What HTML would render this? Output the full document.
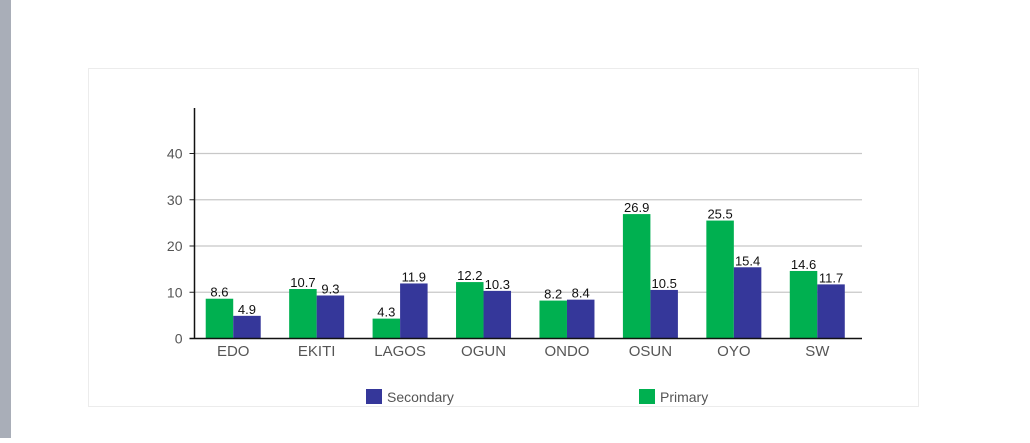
<!DOCTYPE html>
<html><head><meta charset="utf-8"><style>
body{margin:0;background:#fff;width:1030px;height:438px;overflow:hidden;font-family:"Liberation Sans",sans-serif}
</style></head><body>
<svg width="1030" height="438" xmlns="http://www.w3.org/2000/svg">
<rect x="0" y="0" width="11" height="438" fill="#a9aeb8"/>
<rect x="88.5" y="68.5" width="830" height="338" fill="#fff" stroke="#ececec"/>
<g id="grid"></g><g id="bars"></g><g id="axes"></g>
<g>
<rect x="366" y="389" width="16" height="15" fill="#35379a"/>
<text x="387" y="402" font-size="14" fill="#555">Secondary</text>
<rect x="639" y="389" width="16" height="15" fill="#00b050"/>
<text x="660" y="402" font-size="14" fill="#555">Primary</text>
</g>
</svg>
<script>
const categories=["EDO","EKITI","LAGOS","OGUN","ONDO","OSUN","OYO","SW"];
const primary=[8.6,10.7,4.3,12.2,8.2,26.9,25.5,14.6];
const secondary=[4.9,9.3,11.9,10.3,8.4,10.5,15.4,11.7];
const ticks=[0,10,20,30,40];
const NS="http://www.w3.org/2000/svg";
const x0=194.5,x1=862,y0=338.5,pxPer=(338.5-153.5)/40,groupW=(x1-x0)/categories.length,barW=27.5;
const y=v=>y0-v*pxPer;
function mk(t,a,p){const e=document.createElementNS(NS,t);for(const k in a)e.setAttribute(k,a[k]);p.appendChild(e);return e;}
const grid=document.getElementById('grid'),bars=document.getElementById('bars'),axes=document.getElementById('axes');
ticks.forEach(t=>{
 if(t>0){const l=mk('line',{x1:x0,x2:x1,y1:y(t),y2:y(t),stroke:'#c8c8c8','stroke-width':1.2},grid);
 
 }
 const tk=mk('line',{x1:x0-5,x2:x0,y1:y(t),y2:y(t),stroke:'#222'},axes);
 
 
 const tx=mk('text',{x:x0-12,y:y(t)+5,'font-size':14,fill:'#555','text-anchor':'end'},axes);tx.textContent=t;
 
 
});
categories.forEach((c,i)=>{
 const cx=x0+groupW*(i+0.5)-3;
 [[primary[i],'#00b050',cx-barW,'primary'],[secondary[i],'#35379a',cx,'secondary']].forEach(([v,col,bx,s])=>{
  const r=mk('rect',{x:bx,y:y(v),width:barW,height:v*pxPer,fill:col},bars);
  
  
  const t=mk('text',{x:bx+barW/2,y:y(v)-2,'font-size':13,fill:'#111','text-anchor':'middle'},bars);t.textContent=v.toFixed(1);
  
  
 });
 const l=mk('text',{x:cx,y:356,'font-size':15,fill:'#555','text-anchor':'middle'},axes);l.textContent=c;
 
 
});
const ya=mk('line',{x1:x0,x2:x0,y1:108,y2:y0,stroke:'#111','stroke-width':1.5},axes);


const xa=mk('line',{x1:x0-5,x2:x1,y1:y0,y2:y0,stroke:'#111','stroke-width':1.5},axes);


</script>
</body></html>
